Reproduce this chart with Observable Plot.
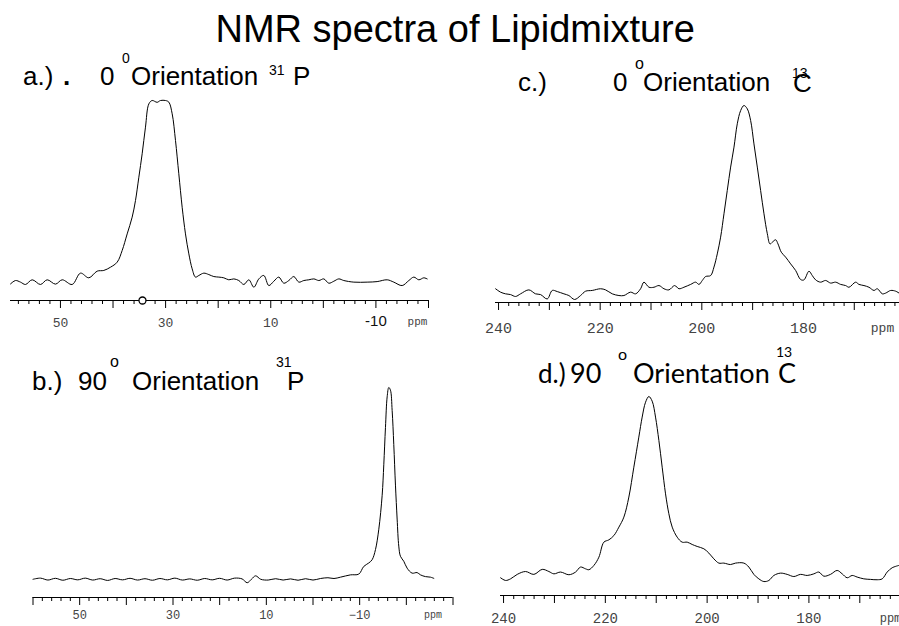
<!DOCTYPE html>
<html>
<head>
<meta charset="utf-8">
<script src="https://cdn.jsdelivr.net/npm/d3@7"></script>
<script src="https://cdn.jsdelivr.net/npm/@observablehq/plot@0.6"></script>
<style>
  body { margin: 0; background: #fff; }
  #root { position: relative; width: 899px; height: 626px; overflow: hidden; background: #fff; color: #000; }
  .t { position: absolute; white-space: nowrap; line-height: 1; }
  .panel { position: absolute; }
  .panel svg { overflow: visible; }
</style>
</head>
<body>
<div id="root"></div>
<script>
// ---------------- DATA ----------------
const title = "NMR spectra of Lipidmixture";

// a.) 0° orientation, 31P
const aPpm = [59.5,58.55,57.6,56.65,55.38,53.8,52.53,50.94,49.67,47.77,46.19,44.6,43.02,41.75,40.48,39.21,38.26,37.31,36.36,35.73,35.09,34.46,33.83,33.19,32.56,31.61,30.97,30.02,29.39,28.75,28.12,27.49,26.85,26.22,25.58,24.95,24.32,23.68,22.73,21.78,20.83,19.88,18.93,17.98,17.03,16.08,15.12,14.17,13.22,12.27,11.32,10.37,9.42,8.47,7.52,6.57,5.61,4.66,3.71,2.76,1.81,0.86,-0.09,-1.04,-1.99,-2.94,-3.89,-5.8,-8.33,-10.23,-12.14,-13.4,-14.99,-16.26,-17.21,-18.16,-19.11,-19.75];
const aInt = [-0.019,0.0,-0.009,-0.022,0.004,-0.022,0.004,-0.02,0.004,-0.022,0.041,0.015,0.052,0.056,0.074,0.102,0.167,0.259,0.352,0.444,0.574,0.704,0.852,0.981,1.0,0.99,1.0,1.0,0.991,0.926,0.778,0.593,0.407,0.259,0.148,0.065,0.019,0.028,0.041,0.033,0.022,0.019,0.015,0.004,0.009,0.0,-0.022,0.004,-0.037,0.009,0.028,-0.028,-0.004,0.019,-0.015,0.0,0.022,-0.009,0.0,0.004,0.009,0.0,0.009,-0.015,-0.004,0.009,0.0,-0.009,-0.009,-0.006,0.004,-0.009,-0.028,0.0,0.019,0.004,0.015,0.009];
const aMarker = [34.4];

// b.) 90° orientation, 31P
const bPpm = [60,58.4,56.8,55.2,53.6,52,50.4,48.8,47.2,45.6,44,42.4,40.8,39.2,37.6,36,34.4,32.8,31.2,29.6,28,26.4,24.8,23.2,21.6,20,18.4,16.8,15.2,14.1,13.2,12.3,11.2,9.6,8,6.4,4.8,3.2,1.6,0,-1.6,-3.2,-4.5,-5.89,-8.03,-9.81,-10.88,-11.95,-12.67,-13.39,-14.1,-14.82,-15.17,-15.53,-15.89,-16.24,-16.6,-16.96,-17.31,-17.67,-18.03,-18.38,-18.74,-19.45,-20.17,-21.24,-22.31,-23.03,-24.1,-25.17,-25.89];
const bInt = [0,0.006,-0.004,0.005,-0.005,0.004,-0.003,0.006,-0.004,0.003,-0.006,0.004,-0.003,0.005,-0.004,0.003,-0.005,0.004,-0.003,0.006,-0.004,0.002,-0.005,0.004,-0.003,0.005,-0.004,0.006,0.002,-0.018,0,0.018,0,-0.004,0.003,-0.004,0.002,-0.005,0.003,-0.004,0.004,0.008,0.004,0.011,0.023,0.027,0.067,0.085,0.102,0.155,0.261,0.438,0.597,0.792,0.951,1.0,0.986,0.880,0.703,0.491,0.314,0.173,0.120,0.094,0.058,0.032,0.035,0.023,0.014,0.011,0.005];

// c.) 0° orientation, 13C
const cPpm = [240.59,239.61,238.62,237.64,236.65,235.67,234.03,232.72,231.73,230.42,229.43,228.44,227.14,226.16,225.04,223.86,222.87,221.56,219.92,218.94,217.62,216.31,215.33,214.02,213.03,212.05,211.39,210.4,209.42,208.43,207.45,206.47,205.35,204.5,203.52,202.2,201.22,200.56,199.9,199.25,198.27,197.61,196.96,196.3,195.64,194.99,194.33,193.67,193.02,192.36,191.71,191.05,190.39,189.74,189.08,188.43,187.77,187.11,186.59,186.13,185.47,185.01,184.36,183.51,182.52,181.54,180.56,179.9,178.92,178.26,177.6,176.62,175.64,174.65,173.67,172.68,171.7,171.04,169.73,169.08,168.09,167.11,166.12,165.47,164.48,163.82,162.83,161.85,161.19];
const cInt = [0.027,0.009,0,-0.004,-0.014,0,0.021,0,-0.004,-0.027,0.018,0.012,0,-0.009,-0.030,-0.009,0.014,0.018,0.027,0.021,0,-0.009,-0.009,0.009,0,0.027,0.062,0.035,0.035,0.044,0.027,0.021,0.044,0.027,0.035,0.050,0.062,0.050,0.071,0.092,0.097,0.142,0.212,0.301,0.425,0.549,0.673,0.779,0.903,0.973,1.0,0.982,0.920,0.796,0.673,0.549,0.425,0.319,0.265,0.274,0.287,0.265,0.221,0.195,0.159,0.124,0.076,0.074,0.120,0.097,0.074,0.062,0.071,0.057,0.062,0.050,0.044,0.035,0.062,0.050,0.044,0.035,0.018,0.027,0,0.004,0.018,0.014,0.004];

// d.) 90° orientation, 13C
const dPpm = [240.59,239.61,238.62,237.31,235.68,234.04,232.4,231.09,230.11,228.8,227.16,225.85,224.87,223.89,223.24,222.25,221.27,220.29,219.31,218.32,217.34,216.36,215.38,214.4,213.42,212.76,212.1,211.45,210.8,210.14,209.48,208.83,208.17,207.52,206.86,205.88,204.9,203.91,202.93,201.95,200.64,199.66,198.68,197.7,196.72,195.4,194.42,192.78,191.8,190.82,189.84,188.85,187.87,186.89,185.58,184.27,182.96,181.65,180.34,179.03,178.05,177.07,175.76,174.45,173.46,172.48,171.5,170.52,169.21,167.9,166.59,165.6,164.62,163.64,162.33];
const dInt = [-0.013,-0.028,-0.019,0.006,0.022,0.006,0.034,0.022,0.009,0.019,0.004,0.019,0.047,0.037,0.032,0.056,0.102,0.186,0.199,0.223,0.270,0.326,0.438,0.605,0.773,0.885,0.968,1.0,0.974,0.885,0.754,0.605,0.456,0.345,0.270,0.214,0.186,0.186,0.173,0.162,0.149,0.125,0.093,0.069,0.069,0.061,0.069,0.069,0.047,0.006,-0.019,-0.034,-0.028,0,0.013,0.006,-0.006,0.006,0,0.009,0.019,-0.004,0.006,0.028,0.009,-0.013,0,-0.009,-0.019,-0.022,-0.024,-0.019,0.019,0.043,0.056];

// axis tick values
const pMajor = [60, 50, 40, 30, 20, 10, 0, -10, -20, -30];
const pLabels = [50, 30, 10];
const pLabelNeg = [-10];
const cMajor = [240, 230, 220, 210, 200, 190, 180, 170];
const cLabels = [240, 220, 200, 180];
const unit = "ppm";

// ---------------- RENDER ----------------
const root = document.getElementById("root");
const SANS = '"Liberation Sans", Arial, sans-serif';
const MONO = '"Liberation Mono", "DejaVu Sans Mono", monospace';
const GEO = 'Lato, "Liberation Sans", sans-serif';

function place(text, x, base, size, family, opts = {}) {
  const d = document.createElement("div");
  d.className = "t";
  d.style.fontSize = size + "px";
  d.style.fontFamily = family;
  if (opts.weight) d.style.fontWeight = opts.weight;
  if (opts.ls) d.style.letterSpacing = opts.ls + "px";
  d.appendChild(document.createTextNode(text));
  const m = document.createElement("span");
  m.style.display = "inline-block"; m.style.width = "0"; m.style.height = "0";
  d.appendChild(m);
  root.appendChild(d);
  const off = m.offsetTop;
  d.style.top = (base - off) + "px";
  d.style.left = (opts.center ? x - d.offsetWidth / 2 : x) + "px";
  return d;
}

// Title
place(title, 455, 42, 38, SANS, {center: true});

// Panel headings
[
  ["a.)", 23, 85, 26, SANS], [".", 63, 85, 26, SANS, {weight: 700}],
  ["0", 100, 85, 26, SANS], ["0", 122, 63, 14, SANS], ["Orientation", 131, 85, 26, SANS],
  ["31", 269, 75, 14, SANS], ["P", 293, 85, 26, SANS],
  ["c.)", 518, 91, 26, SANS], ["0", 613, 91, 26, SANS], ["o", 635, 69, 16, SANS],
  ["Orientation", 643, 91, 26, SANS], ["13", 792, 78, 14, SANS], ["C", 793, 92, 26, SANS],
  ["b.)", 32, 390, 26, SANS], ["90", 78, 390, 26, SANS], ["o", 110, 367, 16, SANS],
  ["Orientation", 132, 390, 26, SANS], ["31", 276, 367, 14, SANS], ["P", 287, 390, 26, SANS],
  ["d.)", 538, 383, 26, GEO], ["90", 570, 383, 27, GEO], ["o", 618, 360, 16, GEO],
  ["Orientation", 633, 383, 27, GEO], ["13", 776, 357, 14, GEO], ["C", 778, 383, 27, GEO]
].forEach(([t, x, y, s, f, o]) => place(t, x, y, s, f, o || {}));

function minorTicks(lo, hi) {
  return d3.range(Math.ceil(lo / 2) * 2, hi + 0.001, 2).filter(v => v % 10 !== 0);
}

function panel(cfg) {
  const data = cfg.ppm.map((p, i) => ({ppm: p, v: cfg.inten[i]}));
  const [hi, lo] = cfg.domain;
  const marks = [
    Plot.ruleY([cfg.ymin], {stroke: "#000", strokeWidth: 1}),
    Plot.axisX({ticks: minorTicks(lo, hi), tickSize: 4, tickFormat: () => "", label: null, stroke: "#000"}),
    Plot.axisX({ticks: cfg.major.filter(v => v <= hi && v >= lo), tickSize: 8, tickFormat: () => "", label: null, stroke: "#000"}),
    Plot.axisX({ticks: cfg.labels, tickSize: 0, tickPadding: cfg.pad, label: null,
      tickFormat: d => d < 0 ? "\u2212" + (-d) : String(d),
      fontFamily: MONO, fontSize: cfg.fs, fill: "#444", style: `letter-spacing:${cfg.ls}px`}),
    Plot.line(data, {x: "ppm", y: "v", stroke: "#000", strokeWidth: 1, curve: "catmull-rom"}),
    Plot.text([unit], {text: d => d, frameAnchor: "bottom-right", dx: cfg.unitDx, dy: cfg.pad, lineAnchor: "top",
      textAnchor: "middle", fontFamily: MONO, fontSize: cfg.fs - 2, fill: "#444"})
  ];
  if (cfg.extra) marks.push(...cfg.extra);
  const svg = Plot.plot({
    width: cfg.width, height: cfg.height,
    marginTop: cfg.mt, marginBottom: cfg.mb, marginLeft: cfg.ml, marginRight: cfg.mr,
    x: {domain: cfg.domain, axis: null, label: null},
    y: {domain: [cfg.ymin, 1], axis: null, label: null},
    style: {background: "transparent", overflow: "visible"},
    marks
  });
  const wrap = document.createElement("div");
  wrap.className = "panel";
  wrap.style.left = cfg.left + "px";
  wrap.style.top = cfg.top + "px";
  wrap.appendChild(svg);
  root.appendChild(wrap);
}

// a.)
panel({
  ppm: aPpm, inten: aInt, domain: [59.5, -20], ymin: -0.111,
  left: 0, top: 90, width: 450, height: 250, mt: 10, mb: 40, ml: 10, mr: 22,
  major: pMajor, labels: pLabels, pad: 17, fs: 13, ls: 2, unitDx: -11,
  extra: [
    Plot.axisX({ticks: pLabelNeg, tickSize: 0, tickPadding: 15, label: null, tickFormat: d => String(d),
      fontFamily: SANS, fontSize: 15, fill: "#111"}),
    Plot.dot(aMarker, {x: d => d, frameAnchor: "bottom", r: 3.5, stroke: "#000", fill: "#fff", strokeWidth: 1.3})
  ]
});

// b.)
panel({
  ppm: bPpm, inten: bInt, domain: [60, -30], ymin: -0.095,
  left: 0, top: 377, width: 460, height: 250, mt: 10, mb: 30, ml: 32.5, mr: 7.5,
  major: pMajor, labels: pLabels.concat(pLabelNeg), pad: 13, fs: 12, ls: 2, unitDx: -20
});

// c.)
panel({
  ppm: cPpm, inten: cInt, domain: [240.6, 161.1], ymin: -0.046,
  left: 450, top: 95, width: 449, height: 250, mt: 10, mb: 43, ml: 45, mr: 0,
  major: cMajor, labels: cLabels, pad: 20, fs: 15, ls: 1, unitDx: -17
});

// d.)
panel({
  ppm: dPpm, inten: dInt, domain: [240.6, 162.2], ymin: -0.112,
  left: 450, top: 386, width: 449, height: 240, mt: 10, mb: 31, ml: 50, mr: 0,
  major: cMajor, labels: cLabels, pad: 18, fs: 14, ls: 1, unitDx: -9
});
</script>
</body>
</html>
